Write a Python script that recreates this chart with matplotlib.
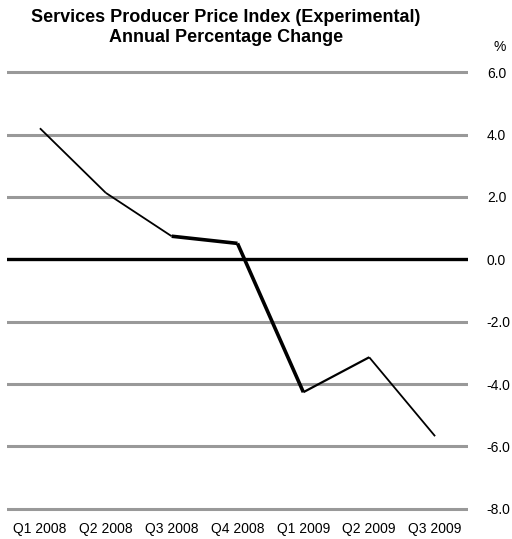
import matplotlib
matplotlib.use("Agg")
import matplotlib.pyplot as plt

categories = ["Q1 2008", "Q2 2008", "Q3 2008", "Q4 2008", "Q1 2009", "Q2 2009", "Q3 2009"]
values = [4.2, 2.13, 0.74, 0.51, -4.26, -3.14, -5.67]
yticks = [6.0, 4.0, 2.0, 0.0, -2.0, -4.0, -6.0, -8.0]
seg_widths = [1.3, 1.3, 2.6, 2.6, 1.6, 1.3]

plt.rcParams['font.family'] = ['Liberation Sans', 'DejaVu Sans']

fig = plt.figure(figsize=(5.12, 5.39), dpi=100)
ax = fig.add_axes([7/512, 27/539, 461/512, 443/539])

for t in yticks:
    if t == 0:
        ax.axhline(t, color='black', lw=2.4, zorder=1)
    else:
        ax.axhline(t, color='#999999', lw=2.2, zorder=1)

x = list(range(len(categories)))
for i in range(len(values) - 1):
    ax.plot(x[i:i+2], values[i:i+2], color='black', lw=seg_widths[i],
            solid_capstyle='butt', solid_joinstyle='miter', zorder=3)

ax.set_xlim(-0.5, len(categories) - 0.5)
ax.set_ylim(-8.1, 6.1)
ax.set_xticks(x)
ax.set_xticklabels(categories, fontsize=10)
ax.set_yticks(yticks)
ax.set_yticklabels([f"{t:.1f}" for t in yticks], fontsize=10, ha='left')
ax.yaxis.tick_right()
ax.tick_params(axis='y', length=0, pad=13.5)
ax.tick_params(axis='x', length=0, pad=7)
for s in ax.spines.values():
    s.set_visible(False)

fig.text(226/512, 1 - 18/539, "Services Producer Price Index (Experimental)",
         ha='center', va='center', fontsize=13, fontweight='bold')
fig.text(226/512, 1 - 37/539, "Annual Percentage Change",
         ha='center', va='center', fontsize=13, fontweight='bold')
fig.text(500/512, 1 - 47/539, "%", ha='center', va='center', fontsize=10)

fig.savefig("out.png", dpi=100)
